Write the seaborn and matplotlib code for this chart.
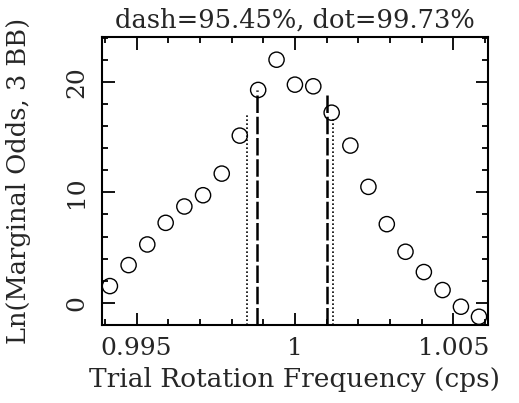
import matplotlib
matplotlib.use("Agg")
import matplotlib.pyplot as plt
import seaborn as sns
import pandas as pd
from matplotlib.ticker import MultipleLocator, FixedLocator, FixedFormatter

# Data
freq = [0.99416, 0.99475, 0.99534, 0.99592, 0.99651, 0.99710, 0.99769,
        0.99826, 0.99884, 0.99942, 1.00000, 1.00058, 1.00116, 1.00175,
        1.00232, 1.00290, 1.00349, 1.00407, 1.00466, 1.00524, 1.00581]
log_odds = [1.51, 3.41, 5.28, 7.24, 8.72, 9.74, 11.70, 15.14, 19.28, 22.02,
            19.76, 19.61, 17.22, 14.24, 10.50, 7.12, 4.62, 2.78, 1.15, -0.36, -1.27]

dash_x = [0.99879, 1.00100]
dash_top = [19.25, 19.10]
dot_x = [0.998475, 1.00121]
dot_top = [16.98, 16.70]

xticks = [0.995, 1.0, 1.005]
xticklabels = ["0.995", "1", "1.005"]
yticks = [0, 10, 20]
yticklabels = ["0", "10", "20"]

title = "dash=95.45%, dot=99.73%"
xlabel = "Trial Rotation Frequency (cps)"
ylabel = "Ln(Marginal Odds, 3 BB)"

sns.set_style("ticks")
plt.rcParams['font.family'] = ['DejaVu Serif']

fig = plt.figure(figsize=(5.19, 4.03), dpi=100)
ax = fig.add_axes([0.1965, 0.194, 0.7435, 0.714])

df = pd.DataFrame({"freq": freq, "odds": log_odds})
sns.scatterplot(data=df, x="freq", y="odds", ax=ax, marker="o", s=120,
                facecolor="none", edgecolor="black", linewidth=1.0, zorder=3)

ylo, yhi = -2.0, 24.07
ax.vlines(dash_x, ylo, dash_top, colors="black", linewidth=1.8,
          linestyles=(0, (7, 1.5)), zorder=2)
ax.vlines(dot_x, ylo, dot_top, colors="black", linewidth=1.2,
          linestyles=(0, (1.0, 1.4)), zorder=2)

ax.set_xlim(0.99391, 1.00609)
ax.set_ylim(ylo, yhi)

ax.xaxis.set_major_locator(FixedLocator(xticks))
ax.xaxis.set_major_formatter(FixedFormatter(xticklabels))
ax.xaxis.set_minor_locator(MultipleLocator(0.001))
ax.yaxis.set_major_locator(FixedLocator(yticks))
ax.yaxis.set_major_formatter(FixedFormatter(yticklabels))
ax.yaxis.set_minor_locator(MultipleLocator(2))

ax.tick_params(which="both", direction="in", top=True, right=True,
               color="black", width=1.3)
ax.tick_params(which="major", length=9, labelsize=18, pad=9)
ax.tick_params(which="minor", length=4.5)
ax.tick_params(axis="y", which="major", pad=10)
for lab in ax.get_yticklabels():
    lab.set_rotation(90)
    lab.set_va("center")

for sp in ax.spines.values():
    sp.set_linewidth(1.5)
    sp.set_color("black")

ax.set_title(title, fontsize=18.5, pad=7)
ax.set_xlabel(xlabel, fontsize=19, labelpad=5)
ax.set_ylabel(ylabel, fontsize=18.5)
ax.yaxis.set_label_coords(-0.183, 0.5)

fig.savefig("out.png", dpi=100)
